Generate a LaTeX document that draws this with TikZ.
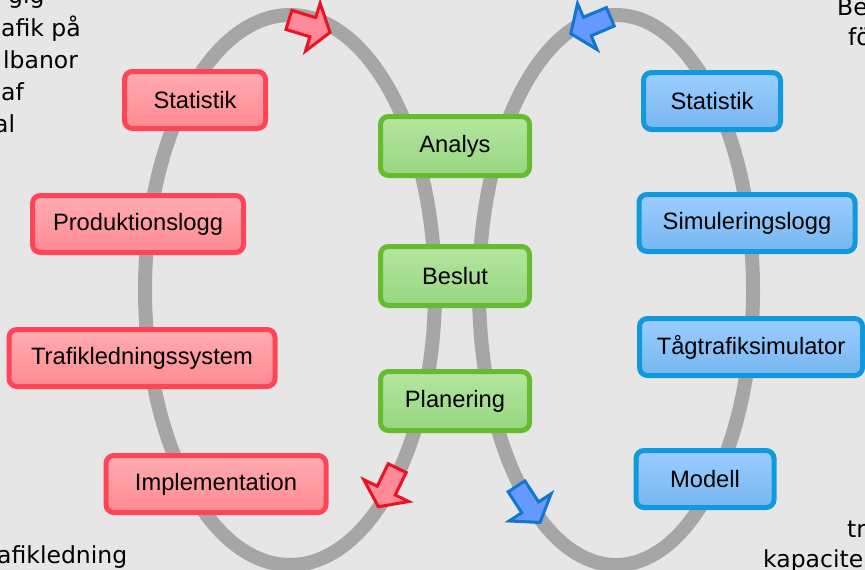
\documentclass[tikz,border=0pt]{standalone}
\usepackage{fontspec}
\setmainfont{Liberation Sans}
\newfontfamily\sidefont{DejaVu Sans}
\usepackage{xcolor}
\usepackage{tikz}
\usetikzlibrary{positioning}
\definecolor{bggray}{RGB}{230, 230, 230}
\definecolor{loopgray}{RGB}{166, 166, 166}
\definecolor{redline}{RGB}{255, 68, 88}
\definecolor{redtop}{RGB}{255, 172, 178}
\definecolor{redbot}{RGB}{255, 138, 146}
\definecolor{greenline}{RGB}{102, 187, 46}
\definecolor{greentop}{RGB}{180, 230, 160}
\definecolor{greenbot}{RGB}{152, 214, 128}
\definecolor{blueline}{RGB}{17, 153, 221}
\definecolor{bluetop}{RGB}{156, 206, 255}
\definecolor{bluebot}{RGB}{118, 182, 240}
\definecolor{arrowred}{RGB}{238, 17, 34}
\definecolor{arrowredfill}{RGB}{255, 136, 153}
\definecolor{arrowblue}{RGB}{17, 119, 204}
\definecolor{arrowbluefill}{RGB}{102, 153, 255}

% block arrow on a loop: centre, angle, border colour, fill colour
\newcommand{\looparrow}[4]{%
  \draw[line width=3pt, line join=miter, draw=#3, fill=#4, shift={#1}, rotate=#2]
    (-21,-10) -- (4,-10) -- (4,-25) -- (22,0) -- (4,25) -- (4,10) -- (-21,10) -- cycle;}

\begin{document}
\begin{tikzpicture}[
    x=1pt, y=-1pt,
    box/.style={rectangle, rounded corners=8pt, line width=5pt, minimum height=57pt,
        inner sep=0pt, font=\fontsize{23.7}{28}\selectfont},
    redbox/.style={box, draw=redline, top color=redtop, bottom color=redbot},
    greenbox/.style={box, draw=greenline, top color=greentop, bottom color=greenbot,
        minimum width=149pt, minimum height=59pt},
    bluebox/.style={box, draw=blueline, top color=bluetop, bottom color=bluebot},
    loopline/.style={draw=loopgray, line width=14pt},
    side/.style={anchor=base west, inner sep=0pt, font=\sidefont\fontsize{23.5}{30}\selectfont}
]
    \fill[bggray] (0,0) rectangle (865,570);
    \useasboundingbox (0,0) rectangle (865,570);
    \clip (0,0) rectangle (865,570);

    % Loops
    \draw[loopline] (290,290) ellipse [x radius=145pt, y radius=275pt];
    \draw[loopline] (616,290) ellipse [x radius=137pt, y radius=275pt];

    % Direction arrows
    \looparrow{(309,26)}{-17}{arrowred}{arrowredfill}
    \looparrow{(591,25)}{203}{arrowblue}{arrowbluefill}
    \looparrow{(388,487)}{244}{arrowred}{arrowredfill}
    \looparrow{(528,504)}{-57}{arrowblue}{arrowbluefill}

    % Operation (left)
    \node[redbox, minimum width=141pt] (statL) at (195,100) {Statistik};
    \node[redbox, minimum width=211pt] (prodlog) at (138,224) {Produktionslogg};
    \node[redbox, minimum width=266pt] (trafsys) at (142,358) {Trafikledningssystem};
    \node[redbox, minimum width=220pt] (impl) at (216,484) {Implementation};

    % Decision (middle)
    \node[greenbox] (analys) at (455,146) {Analys};
    \node[greenbox] (beslut) at (455,276) {Beslut};
    \node[greenbox] (planering) at (455,401) {Planering};

    % Simulation (right)
    \node[bluebox, minimum width=137pt] (statR) at (712,101) {Statistik};
    \node[bluebox, minimum width=216pt] (simlog) at (747,223) {Simuleringslogg};
    \node[bluebox, minimum width=223pt] (simulator) at (751,347) {Tågtrafiksimulator};
    \node[bluebox, minimum width=138pt] (modell) at (705,479) {Modell};

    % Cut-off side texts
    \node[side] (tlA) at (8,4) {gig};
    \node[side] (tlB) at (1,36) {afik på};
    \node[side] (tlC) at (3,68) {lbanor};
    \node[side] (tlD) at (1,100) {af};
    \node[side] (tlE) at (-6,132) {al};
    \node[side] (trA) at (837,15) {Be};
    \node[side] (trB) at (848,45) {fö};
    \node[side] (blA) at (-3,563) {afikledning};
    \node[side] (brA) at (847,537) {tr};
    \node[side] (brB) at (763,567) {kapacite};

\end{tikzpicture}
\end{document}
